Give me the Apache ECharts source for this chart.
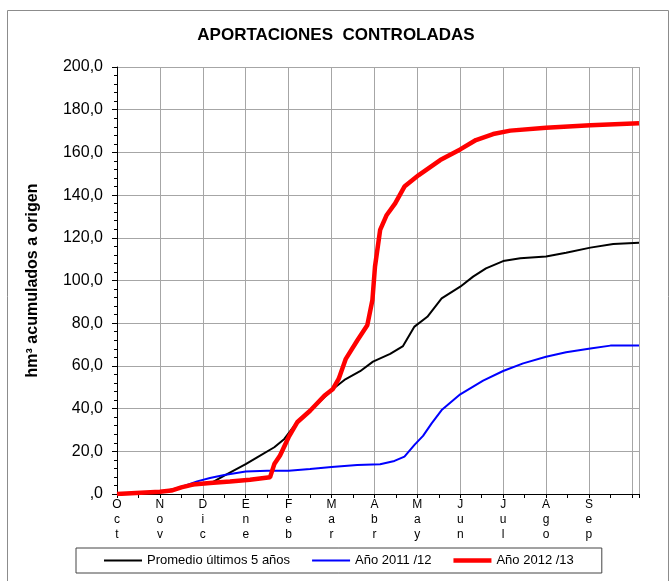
<!DOCTYPE html>
<html>
<head>
<meta charset="utf-8">
<script src="https://cdn.jsdelivr.net/npm/echarts@6/dist/echarts.min.js"></script>
<style>
  html, body { margin: 0; padding: 0; background: #fff; }
  #chart { width: 672px; height: 581px; }
</style>
</head>
<body>
<div id="chart"></div>
<script>
// hydrological year, x = day since 1 Oct, one grid line every 30 days
const monthLabels = ['Oct', 'Nov', 'Dic', 'Ene', 'Feb', 'Mar', 'Abr', 'May', 'Jun', 'Jul', 'Ago', 'Sep'];
const yTicks = [0, 20, 40, 60, 80, 100, 120, 140, 160, 180, 200];

// Promedio últimos 5 años
const avgDays = [0, 30, 45, 55, 66, 75, 90, 98, 110, 117, 125, 135, 145, 151, 159, 170, 179, 191, 200, 208, 217, 227, 240, 249, 258, 270, 282, 300, 314, 331, 347, 365];
const avgVals = [0, 1.0, 3.0, 4.3, 5.2, 8.6, 14.0, 17.2, 21.9, 25.8, 32.8, 39.0, 45.3, 49.2, 53.4, 57.5, 62.0, 65.6, 69.3, 78.4, 83.0, 91.6, 97.1, 101.8, 105.7, 109.1, 110.4, 111.2, 113.0, 115.4, 117.1, 117.7];

// Año 2011 /12
const y1112Days = [0, 30, 38, 49, 56, 65, 75, 90, 105, 120, 135, 150, 168, 184, 194, 201, 208, 214, 220, 227, 240, 256, 270, 284, 300, 314, 331, 345, 365];
const y1112Vals = [0, 1.1, 1.9, 4.2, 5.9, 7.5, 8.9, 10.5, 10.9, 10.9, 11.7, 12.7, 13.6, 13.9, 15.5, 17.5, 23.0, 27.2, 33.1, 39.3, 46.7, 53.1, 57.6, 61.2, 64.3, 66.4, 68.1, 69.5, 69.5];

// Año 2012 /13
const y1213Days = [0, 30, 38, 45, 53, 65, 79, 93, 107, 108, 110, 114, 120, 126, 135, 145, 151, 155, 160, 168, 175, 178.6, 180.4, 184, 188.6, 194.5, 201, 211, 226, 240, 251, 263, 275, 300, 331, 365];
const y1213Vals = [0, 1.1, 1.6, 3.1, 4.4, 5.2, 5.9, 6.7, 7.8, 8.6, 14.0, 18.0, 26.6, 33.6, 39.0, 46.0, 49.2, 53.9, 63.3, 71.9, 79.0, 90.9, 106.5, 123.7, 130.7, 136.1, 144.0, 149.4, 156.4, 161.4, 165.8, 168.6, 170.2, 171.6, 172.7, 173.6];

function zip(xs, ys) {
  return xs.map((x, i) => [x, ys[i]]);
}

const chart = echarts.init(document.getElementById('chart'));

chart.setOption({
  animation: false,
  backgroundColor: '#fff',
  textStyle: { fontFamily: 'Liberation Sans, Arial, sans-serif', color: '#000' },
  title: {
    text: 'APORTACIONES  CONTROLADAS',
    left: 'center',
    top: 22,
    textStyle: { fontSize: 17, fontWeight: 'bold', color: '#000', fontFamily: 'Liberation Sans, Arial, sans-serif' }
  },
  graphic: [{
    type: 'rect',
    shape: { x: 7.5, y: 10.5, width: 661, height: 600 },
    style: { fill: 'none', stroke: '#8c8c8c', lineWidth: 1 },
    silent: true
  }],
  legend: {
    bottom: 8,
    left: 76,
    padding: [6, 28, 6, 28],
    itemGap: 22,
    itemWidth: 38,
    itemHeight: 10,
    borderColor: '#444',
    borderWidth: 1,
    textStyle: { fontSize: 13, color: '#000' },
    data: [
      { name: 'Promedio últimos 5 años', icon: 'path://M0 0H38V2H0Z' },
      { name: 'Año 2011 /12', icon: 'path://M0 0H38V2H0Z' },
      { name: 'Año 2012 /13', icon: 'path://M0 0H38V4.5H0Z' }
    ]
  },
  grid: { left: 117, right: 33, top: 67, bottom: 87 },
  xAxis: {
    type: 'value',
    min: 0,
    max: 365,
    interval: 30,
    axisLine: { lineStyle: { color: '#000', width: 1 } },
    axisTick: { show: true, length: 4, lineStyle: { color: '#000' } },
    minorTick: { show: true, splitNumber: 2, length: 4, lineStyle: { color: '#000' } },
    splitLine: { show: true, lineStyle: { color: '#a6a6a6', width: 1 } },
    axisLabel: {
      fontSize: 12,
      lineHeight: 15,
      color: '#000',
      margin: 3,
      formatter: function (v) {
        if (v % 30 !== 0) return '';
        const m = monthLabels[v / 30];
        return m ? m.split('').join('\n') : '';
      }
    }
  },
  yAxis: {
    type: 'value',
    min: yTicks[0],
    max: yTicks[yTicks.length - 1],
    interval: 20,
    name: 'hm³ acumulados a origen',
    nameLocation: 'middle',
    nameGap: 76,
    nameTextStyle: { fontSize: 16, fontWeight: 'bold', color: '#000' },
    axisLine: { show: true, lineStyle: { color: '#000', width: 1 } },
    axisTick: { show: true, length: 5, lineStyle: { color: '#000' } },
    minorTick: { show: true, splitNumber: 5, length: 3, lineStyle: { color: '#000' } },
    splitLine: { show: true, lineStyle: { color: '#a6a6a6', width: 1 } },
    axisLabel: {
      fontSize: 16,
      color: '#000',
      margin: 14,
      formatter: function (v) {
        return v === 0 ? ',0' : v.toFixed(1).replace('.', ',');
      }
    }
  },
  series: [
    {
      name: 'Promedio últimos 5 años',
      type: 'line',
      data: zip(avgDays, avgVals),
      symbol: 'none',
      color: '#000',
      lineStyle: { color: '#000', width: 2 },
      z: 3
    },
    {
      name: 'Año 2011 /12',
      type: 'line',
      data: zip(y1112Days, y1112Vals),
      symbol: 'none',
      color: '#0000ff',
      lineStyle: { color: '#0000ff', width: 2 },
      z: 4
    },
    {
      name: 'Año 2012 /13',
      type: 'line',
      data: zip(y1213Days, y1213Vals),
      symbol: 'none',
      color: '#ff0000',
      lineStyle: { color: '#ff0000', width: 4.5 },
      z: 5
    }
  ]
});
</script>
</body>
</html>
